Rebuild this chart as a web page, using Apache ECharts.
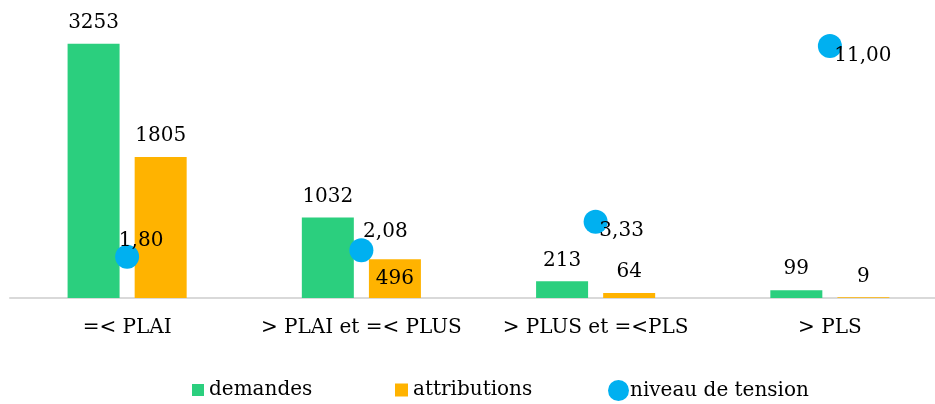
<!DOCTYPE html>
<html>
<head>
<meta charset="utf-8">
<script src="https://cdn.jsdelivr.net/npm/echarts@6/dist/echarts.min.js"></script>
<style>
  html, body { margin: 0; padding: 0; background: #fff; overflow: hidden; }
  /* the plot runs slightly past the right edge of the window */
  #chart { width: 947px; height: 404px; }
</style>
</head>
<body>
<div id="chart"></div>
<script>
// Logement social : demandes, attributions et niveau de tension par plafond de ressources
const categories = ['=< PLAI', '> PLAI et =< PLUS', '> PLUS et =<PLS', '> PLS'];
const demandes = [3253, 1032, 213, 99];
const attributions = [1805, 496, 64, 9];
const tension = [1.80, 2.08, 3.33, 11.00];

// placement of each tension label relative to its dot
const tensionLabelOffsets = [[14, -16], [24, -19], [26, 9], [33, 10]];

const FONT = '"DejaVu Serif", Georgia, serif';
const GREEN = '#2BCF7E';
const ORANGE = '#FFB300';
const BLUE = '#00B0F0';

const chart = echarts.init(document.getElementById('chart'), null, { renderer: 'canvas' });

const fmt = v => v.toFixed(2).replace('.', ',');

chart.setOption({
  animation: false,
  backgroundColor: '#ffffff',
  textStyle: { fontFamily: FONT, color: '#000' },
  grid: { left: 10, right: 0, top: 23, bottom: 106, containLabel: false },
  legend: [
    { data: [{ name: 'demandes', icon: 'rect' }], left: 187, top: 375, itemWidth: 12, itemHeight: 12, itemGap: 0,
      textStyle: { fontFamily: FONT, fontSize: 20, color: '#000' } },
    { data: [{ name: 'attributions', icon: 'rect' }], left: 390, top: 375, itemWidth: 13, itemHeight: 13, itemGap: 0,
      textStyle: { fontFamily: FONT, fontSize: 20, color: '#000' } },
    { data: [{ name: 'niveau de tension', icon: 'circle' }], left: 603, top: 375, itemWidth: 21, itemHeight: 21, itemGap: 0,
      textStyle: { fontFamily: FONT, fontSize: 20, color: '#000', padding: [0, 0, 0, -4] } }
  ],
  xAxis: {
    type: 'category',
    data: categories,
    axisLine: { show: true, lineStyle: { color: '#d9d9d9', width: 2 } },
    axisTick: { show: false },
    axisLabel: { fontFamily: FONT, fontSize: 20, color: '#000', margin: 20, interval: 0 }
  },
  yAxis: [
    { type: 'value', min: 0, max: 3520, show: false, splitLine: { show: false } },
    { type: 'value', min: 0, max: 12, show: false, splitLine: { show: false } }
  ],
  series: [
    {
      name: 'demandes',
      type: 'bar',
      data: demandes,
      barWidth: 52,
      barGap: '29%',
      itemStyle: { color: GREEN },
      label: { show: true, position: 'top', distance: 11, fontFamily: FONT, fontSize: 20, color: '#000' }
    },
    {
      name: 'attributions',
      type: 'bar',
      data: attributions.map(v => v === 496
        ? { value: v, label: { position: 'inside' } }
        : v),
      barWidth: 52,
      barGap: '29%',
      itemStyle: { color: ORANGE },
      label: { show: true, position: 'top', distance: 11, fontFamily: FONT, fontSize: 20, color: '#000' }
    },
    {
      name: 'niveau de tension',
      type: 'scatter',
      yAxisIndex: 1,
      symbol: 'circle',
      symbolSize: 24,
      z: 5,
      itemStyle: { color: BLUE, opacity: 1 },
      data: tension.map((v, i) => ({
        value: v,
        label: { offset: tensionLabelOffsets[i] }
      })),
      label: {
        show: true,
        position: 'inside',
        fontFamily: FONT,
        fontSize: 20,
        color: '#000',
        formatter: p => fmt(p.value)
      }
    }
  ]
});
</script>
</body>
</html>
